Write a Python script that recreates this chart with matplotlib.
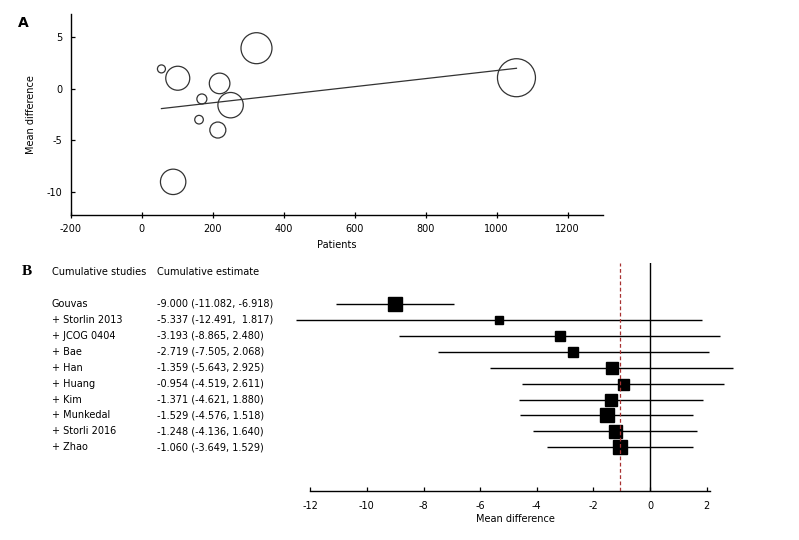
import numpy as np
import matplotlib
matplotlib.use("Agg")
from matplotlib import pyplot as plt
from matplotlib.transforms import blended_transform_factory

plt.rcParams['font.family'] = ['DejaVu Sans']
plt.rcParams['font.size'] = 7
plt.rcParams['axes.unicode_minus'] = False

# --- panel A: meta-regression (patients vs mean difference)
patients = [55, 101, 323, 219, 169, 250, 161, 214, 88, 1056]
mean_diff = [1.9, 1.0, 3.9, 0.5, -1.0, -1.6, -3.0, -4.0, -9.0, 1.05]
bubble_weight = [4.0, 12.0, 15.5, 10.3, 5.0, 12.7, 4.3, 8.0, 12.7, 19.0]
reg_x = [55, 1056]
reg_y = [-1.93, 1.96]

# --- panel B: cumulative meta-analysis
studies = ["Gouvas", "+ Storlin 2013", "+ JCOG 0404", "+ Bae", "+ Han", "+ Huang",
           "+ Kim", "+ Munkedal", "+ Storli 2016", "+ Zhao"]
estimate = [-9.000, -5.337, -3.193, -2.719, -1.359, -0.954, -1.371, -1.529, -1.248, -1.060]
ci_low = [-11.082, -12.491, -8.865, -7.505, -5.643, -4.519, -4.621, -4.576, -4.136, -3.649]
ci_high = [-6.918, 1.817, 2.480, 2.068, 2.925, 2.611, 1.880, 1.518, 1.640, 1.529]
ci_text = ["-9.000 (-11.082, -6.918)", "-5.337 (-12.491,  1.817)", "-3.193 (-8.865, 2.480)",
           "-2.719 (-7.505, 2.068)", "-1.359 (-5.643, 2.925)", "-0.954 (-4.519, 2.611)",
           "-1.371 (-4.621, 1.880)", "-1.529 (-4.576, 1.518)", "-1.248 (-4.136, 1.640)",
           "-1.060 (-3.649, 1.529)"]
box_weight = [14.0, 8.7, 10.5, 10.3, 11.5, 11.0, 12.5, 13.3, 13.0, 13.3]
overall = -1.060

W, H = 799, 540
fig = plt.figure(figsize=(W / 100, H / 100), dpi=100)


def px_axes(left, top, right, bottom):
    return fig.add_axes([left / W, 1 - bottom / H, (right - left) / W, (bottom - top) / H])


# ---------------- A
ax = px_axes(71, 14, 603, 215)
px2pt = 72 / 100
sizes = [(2 * r * px2pt) ** 2 for r in bubble_weight]
ax.scatter(patients, mean_diff, s=sizes, facecolors='none', edgecolors='#333333', linewidths=0.9, zorder=3)
ax.plot(reg_x, reg_y, color='#333333', lw=0.9)
ax.set_xlim(-200, 1300)
ax.set_ylim(-12.2, 7.2)
ax.set_xticks(range(-200, 1201, 200))
ax.set_yticks([5, 0, -5, -10])
ax.spines['top'].set_visible(False)
ax.spines['right'].set_visible(False)
for s in ['left', 'bottom']:
    ax.spines[s].set_linewidth(1.0)
ax.tick_params(axis='x', direction='inout', length=5, width=0.9, pad=4)
ax.tick_params(axis='y', direction='in', length=3, width=0.9, pad=6)
ax.set_xlabel("Patients", labelpad=4)
ax.set_ylabel("Mean difference", labelpad=8)
fig.text(18 / W, 1 - 23 / H, "A", fontsize=10, fontweight='bold', va='center', ha='left')

# ---------------- B
bx = px_axes(270, 263, 790, 491)
bx.set_xlim(-13.42, 4.94)
bx.set_ylim(11.74, -2.57)
rows = np.arange(len(studies))
bx.hlines(rows, ci_low, ci_high, color='black', lw=1.0, clip_on=False)
for r, e, w in zip(rows, estimate, box_weight):
    bx.plot(e, r, marker='s', color='black', markersize=w * px2pt, linestyle='none', zorder=3)
bx.axvline(0, color='black', lw=1.0)
bx.axvline(overall, color='#a83232', lw=0.9, ls=(0, (3, 2)), zorder=4)
for s in ['top', 'right', 'left']:
    bx.spines[s].set_visible(False)
bx.spines['bottom'].set_bounds(-12, 2.1)
bx.spines['bottom'].set_linewidth(1.0)
bx.set_yticks([])
bx.set_xticks(range(-12, 3, 2))
bx.tick_params(axis='x', direction='in', length=3, width=0.9, pad=7)
bx.set_xlabel("Mean difference")
bx.xaxis.set_label_coords((515 - 270) / 520, -0.121)
bx.xaxis.label.set_va('center')

tr = blended_transform_factory(fig.transFigure, bx.transData)
header_y = (271.7 - 304) / 15.93
bx.text(51.7 / W, header_y, "Cumulative studies", transform=tr, va='center', ha='left')
bx.text(157.3 / W, header_y, "Cumulative estimate", transform=tr, va='center', ha='left')
fig.text(22 / W, 1 - 271.7 / H, "B", fontsize=11, fontweight='bold', family='Liberation Serif',
         va='center', ha='left')
for r, name, txt in zip(rows, studies, ci_text):
    bx.text(51.7 / W, r, name, transform=tr, va='center', ha='left')
    bx.text(157.3 / W, r, txt, transform=tr, va='center', ha='left')

fig.savefig("out.png", dpi=100)
